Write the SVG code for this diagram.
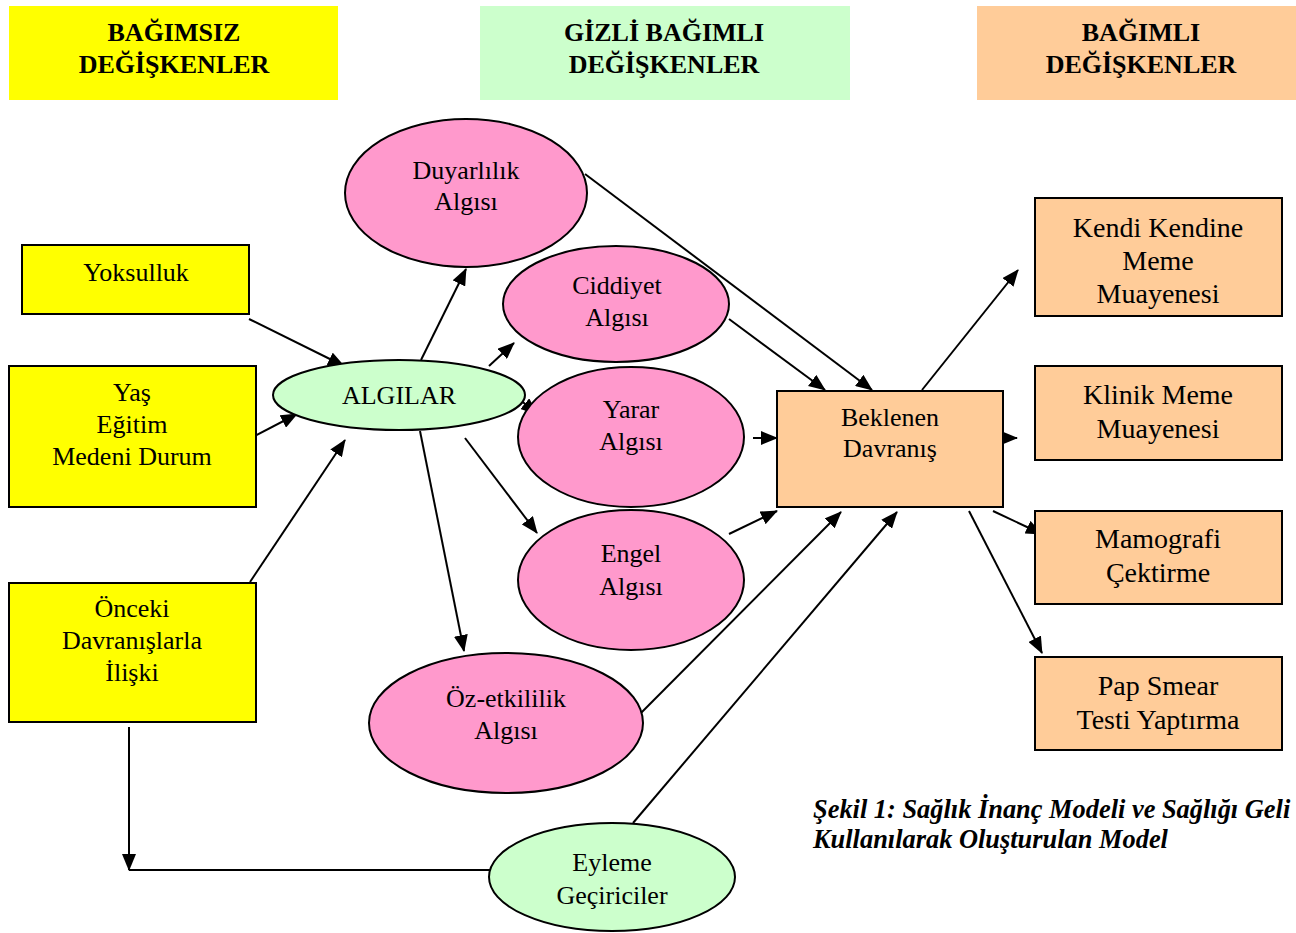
<svg xmlns="http://www.w3.org/2000/svg" width="1296" height="933" viewBox="0 0 1296 933">
<style>
.hdr{font-family:"Liberation Serif","Times New Roman",serif;font-size:26px;font-weight:bold;text-anchor:middle;fill:#000}
.t{font-family:"Liberation Serif","Times New Roman",serif;font-size:26px;text-anchor:middle;fill:#000}
.tr{font-family:"Liberation Serif","Times New Roman",serif;font-size:28px;text-anchor:middle;fill:#000}
.cap{font-family:"Liberation Serif","Times New Roman",serif;font-size:26.4px;font-weight:bold;font-style:italic;fill:#000}
.box{stroke:#000;stroke-width:2}
.y{fill:#ffff00}
.g{fill:#ccffcc}
.p{fill:#ff99cc}
.o{fill:#ffcc99}
.c{stroke:#000;stroke-width:2;fill:none}
.a{marker-end:url(#ah)}
</style>
<defs>
<marker id="ah" markerUnits="userSpaceOnUse" markerWidth="17" markerHeight="14" refX="16" refY="7" orient="auto" viewBox="0 0 17 14">
<path d="M0,0 L17,7 L0,14 z" fill="#000"/>
</marker>
</defs>
<rect width="1296" height="933" fill="#fff"/>

<g id="header-bagimsiz">
<rect class="y" x="9" y="6" width="329" height="94"/>
<text class="hdr" x="174" y="41">BAĞIMSIZ</text>
<text class="hdr" x="174" y="73">DEĞİŞKENLER</text>
</g>
<g id="header-gizli">
<rect class="g" x="480" y="6" width="370" height="94"/>
<text class="hdr" x="664" y="41">GİZLİ BAĞIMLI</text>
<text class="hdr" x="664" y="73">DEĞİŞKENLER</text>
</g>
<g id="header-bagimli">
<rect class="o" x="977" y="6" width="319" height="94"/>
<text class="hdr" x="1141" y="41">BAĞIMLI</text>
<text class="hdr" x="1141" y="73">DEĞİŞKENLER</text>
</g>

<g id="connectors">
<line class="c a" x1="249" y1="319" x2="344" y2="366"/>
<line class="c a" x1="249" y1="439" x2="297" y2="414"/>
<line class="c a" x1="250" y1="582" x2="345" y2="440"/>
<line class="c a" x1="421" y1="360" x2="466" y2="269"/>
<line class="c a" x1="489" y1="366" x2="514" y2="343"/>
<line class="c a" x1="518" y1="398" x2="537" y2="414"/>
<line class="c a" x1="465" y1="438" x2="537" y2="533"/>
<line class="c a" x1="420" y1="431" x2="464" y2="651"/>
<line class="c a" x1="585" y1="174" x2="872" y2="390"/>
<line class="c a" x1="729" y1="319" x2="825" y2="390"/>
<line class="c a" x1="753" y1="438" x2="777" y2="438"/>
<line class="c a" x1="729" y1="534" x2="777" y2="511"/>
<line class="c a" x1="633" y1="721" x2="841" y2="512"/>
<line class="c a" x1="633" y1="823" x2="897" y2="512"/>
<line class="c a" x1="922" y1="390" x2="1018" y2="270"/>
<line class="c a" x1="993" y1="438" x2="1017" y2="438"/>
<line class="c a" x1="993" y1="511" x2="1042" y2="534"/>
<line class="c a" x1="969" y1="511" x2="1042" y2="653"/>
<line class="c a" x1="129" y1="727" x2="129" y2="870"/>
<line class="c" x1="129" y1="870" x2="490" y2="870"/>
</g>

<g id="yoksulluk">
<rect class="box y" x="22" y="245" width="227" height="69"/>
<text class="t" x="136" y="281">Yoksulluk</text>
</g>
<g id="yas-egitim">
<rect class="box y" x="9" y="366" width="247" height="141"/>
<text class="t" x="132" y="401">Yaş</text>
<text class="t" x="132" y="433">Eğitim</text>
<text class="t" x="132" y="465">Medeni Durum</text>
</g>
<g id="onceki">
<rect class="box y" x="9" y="583" width="247" height="139"/>
<text class="t" x="132" y="617">Önceki</text>
<text class="t" x="132" y="649">Davranışlarla</text>
<text class="t" x="132" y="681">İlişki</text>
</g>

<g id="algilar">
<ellipse class="box g" cx="399" cy="395" rx="126" ry="35"/>
<text class="t" x="399" y="404">ALGILAR</text>
</g>
<g id="duyarlilik">
<ellipse class="box p" cx="466" cy="193" rx="121" ry="74"/>
<text class="t" x="466" y="179">Duyarlılık</text>
<text class="t" x="466" y="210">Algısı</text>
</g>
<g id="ciddiyet">
<ellipse class="box p" cx="616" cy="304" rx="113" ry="58"/>
<text class="t" x="617" y="294">Ciddiyet</text>
<text class="t" x="617" y="326">Algısı</text>
</g>
<g id="yarar">
<ellipse class="box p" cx="631" cy="437" rx="113" ry="70"/>
<text class="t" x="631" y="418">Yarar</text>
<text class="t" x="631" y="450">Algısı</text>
</g>
<g id="engel">
<ellipse class="box p" cx="631" cy="580" rx="113" ry="70"/>
<text class="t" x="631" y="562">Engel</text>
<text class="t" x="631" y="595">Algısı</text>
</g>
<g id="oz-etkililik">
<ellipse class="box p" cx="506" cy="723" rx="137" ry="70"/>
<text class="t" x="506" y="707">Öz-etkililik</text>
<text class="t" x="506" y="739">Algısı</text>
</g>
<g id="eyleme">
<ellipse class="box g" cx="612" cy="877" rx="123" ry="54"/>
<text class="t" x="612" y="871">Eyleme</text>
<text class="t" x="612" y="904">Geçiriciler</text>
</g>

<g id="beklenen">
<rect class="box o" x="777" y="391" width="226" height="116"/>
<text class="t" x="890" y="426">Beklenen</text>
<text class="t" x="890" y="457">Davranış</text>
</g>

<g id="kendi">
<rect class="box o" x="1035" y="198" width="247" height="118"/>
<text class="tr" x="1158" y="237">Kendi Kendine</text>
<text class="tr" x="1158" y="270">Meme</text>
<text class="tr" x="1158" y="303">Muayenesi</text>
</g>
<g id="klinik">
<rect class="box o" x="1035" y="366" width="247" height="94"/>
<text class="tr" x="1158" y="404">Klinik Meme</text>
<text class="tr" x="1158" y="438">Muayenesi</text>
</g>
<g id="mamografi">
<rect class="box o" x="1035" y="511" width="247" height="93"/>
<text class="tr" x="1158" y="548">Mamografi</text>
<text class="tr" x="1158" y="582">Çektirme</text>
</g>
<g id="papsmear">
<rect class="box o" x="1035" y="657" width="247" height="93"/>
<text class="tr" x="1158" y="695">Pap Smear</text>
<text class="tr" x="1158" y="729">Testi Yaptırma</text>
</g>

<g id="caption">
<text class="cap" x="813" y="818">Şekil 1: Sağlık İnanç Modeli ve Sağlığı Geli</text>
<text class="cap" x="813" y="848">Kullanılarak Oluşturulan Model</text>
</g>
</svg>
